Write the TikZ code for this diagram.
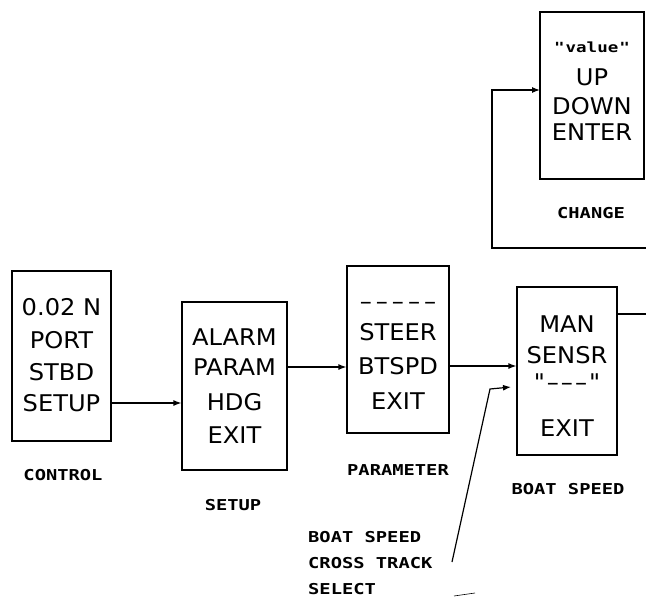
\documentclass[tikz,border=0pt]{standalone}
\usepackage{fontspec}
\usetikzlibrary{arrows.meta}
\newfontfamily\boxfnt[FakeStretch=1.05]{DejaVu Sans}
\newfontfamily\labfnt[FakeStretch=1.25]{DejaVu Sans Mono}
\tikzset{
  box/.style={draw, line width=1.2pt, rectangle, inner sep=0pt},
  boxtext/.style={inner sep=0pt, font=\boxfnt\fontsize{23}{27}\selectfont},
  lab/.style={inner sep=0pt, font=\labfnt\bfseries\fontsize{15}{18}\selectfont},
  conn/.style={line width=1.2pt},
  arr/.style={conn, -{Latex[length=8pt,width=6pt]}}
}
\begin{document}
\begin{tikzpicture}[x=1pt,y=-1pt]
\useasboundingbox (0,0) rectangle (646,598);

% boxes
\node[box, minimum width=99pt, minimum height=170pt] (ctrl) at (61.5,356) {};
\node[box, minimum width=105pt, minimum height=168pt] (setup) at (234.5,386) {};
\node[box, minimum width=102pt, minimum height=167pt] (param) at (398,349.5) {};
\node[box, minimum width=100pt, minimum height=168pt] (boat) at (567,371) {};
\node[box, minimum width=104pt, minimum height=167pt] (change) at (592,95.5) {};

% box texts
\foreach \t/\yy [count=\i] in {0.02 N/307, PORT/340, STBD/372, SETUP/403}
  \node[boxtext] (ctrlt\i) at (61.5,\yy) {\t};
\foreach \t/\yy [count=\i] in {ALARM/337, PARAM/367, HDG/402, EXIT/435}
  \node[boxtext] (setupt\i) at (234.5,\yy) {\t};
\node[boxtext] (paramt1) at (398,306) {–\kern4pt–\kern4pt–\kern4pt–\kern4pt–};
\foreach \t/\yy [count=\i from 2] in {STEER/332, BTSPD/366, EXIT/401}
  \node[boxtext] (paramt\i) at (398,\yy) {\t};
\foreach \t/\yy [count=\i] in {MAN/324, SENSR/355}
  \node[boxtext] (boatt\i) at (567,\yy) {\t};
\node[boxtext] (boatt3) at (567,382) {"\kern2pt–\kern2pt–\kern2pt–\kern2pt"};
\node[boxtext] (boatt4) at (567,428) {EXIT};
\node[inner sep=0pt, font=\labfnt\bfseries\fontsize{14}{18}\selectfont] (changet1) at (592,47) {"\kern1pt value\kern1pt"};
\foreach \t/\yy [count=\i from 2] in {UP/77, DOWN/106, ENTER/132}
  \node[boxtext] (changet\i) at (592,\yy) {\t};

% labels
\node[lab] (lcontrol) at (63,475) {CONTROL};
\node[lab] (lsetup) at (233,505) {SETUP};
\node[lab] (lparam) at (398,470) {PARAMETER};
\node[lab] (lboat) at (568,489) {BOAT SPEED};
\node[lab] (lchange) at (591,213) {CHANGE};
\node[lab, anchor=west] (sel1) at (308,537) {BOAT SPEED};
\node[lab, anchor=west] (sel2) at (308,563) {CROSS TRACK};
\node[lab, anchor=west] (sel3) at (308,589) {SELECT};

% connectors
\draw[arr] (ctrl.east |- ctrlt4) -- (setup.west |- ctrlt4);
\draw[arr] (setup.east |- setupt2) -- (param.west |- setupt2);
\draw[arr] (param.east |- paramt3) -- (boat.west |- paramt3);
\coordinate (boatOut) at (646,314);
\draw[conn] (boat.east |- boatOut) -- (boatOut);

\coordinate (loopR) at (646,248);
\coordinate (loopL) at (492,248);
\coordinate (chIn) at (540,90);
\draw[arr] (loopR) -- (loopL) |- (chIn);

\coordinate (ptrStart) at (452,562);
\coordinate (ptrBend) at (490,389);
\coordinate (ptrEnd) at (511,387);
\draw[arr] (ptrStart) -- (ptrBend) -- (ptrEnd);

\coordinate (tickA) at (454,596);
\coordinate (tickB) at (475,593);
\draw[line width=0.6pt] (tickA) -- (tickB);
\end{tikzpicture}
\end{document}
